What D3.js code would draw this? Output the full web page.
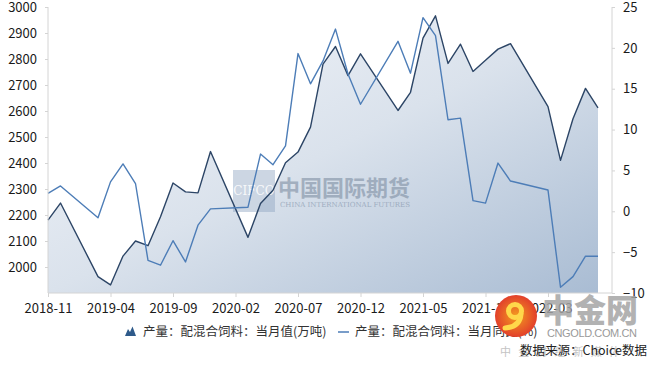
<!DOCTYPE html>
<html>
<head>
<meta charset="utf-8">
<script src="https://cdn.jsdelivr.net/npm/d3@7"></script>
<style>
  body { margin: 0; background: #fff; }
  svg { display: block; }
  text { font-family: "Microsoft YaHei", "Noto Sans CJK SC", sans-serif; }
</style>
</head>
<body>
<svg id="chart"></svg>
<script>
// monthly categories 2018-11 .. 2022-07 (Jan/Feb not published -> null)
const months = d3.timeMonths(new Date(2018, 10, 1), new Date(2022, 7, 1)).map(d3.timeFormat("%Y-%m"))
const output = [2180, 2246, null, null, 1963, 1931, 2042, 2100, 2082, 2193, 2323, 2289, 2285, 2444,
  null, null, 2114, 2244, 2295, 2401, 2442, 2538, 2780, 2848, 2736, 2820, null, null, 2602, 2672,
  2880, 2966, 2783, 2857, 2752, 2795, 2838, 2859, null, null, 2617, 2410, 2570, 2687, 2612]
const yoy = [2.2, 3.1, null, null, -0.8, 3.6, 5.8, 3.4, -6.0, -6.6, -3.6, -6.2, -1.7, 0.3,
  null, null, 0.5, 7.0, 5.7, 8.0, 19.3, 15.6, 18.4, 22.3, 16.8, 13.1, null, null, 20.8, 16.9,
  23.7, 21.5, 11.2, 11.4, 1.3, 1.0, 5.9, 3.7, null, null, 2.6, -9.3, -8.0, -5.5, -5.5]
const xTickLabels = ["2018-11", "2019-04", "2019-09", "2020-02", "2020-07", "2020-12", "2021-05", "2021-10", "2022-03"]
const leftTicks = [2000, 2100, 2200, 2300, 2400, 2500, 2600, 2700, 2800, 2900, 3000]
const rightTicks = [-10, -5, 0, 5, 10, 15, 20, 25]
const seriesNames = ["产量：配混合饲料：当月值(万吨)", "产量：配混合饲料：当月同比(%)"]

const width = 650, height = 368
const plot = { left: 48, right: 612, top: 7, bottom: 293 }

const svg = d3.select("#chart").attr("width", width).attr("height", height)

const x = d3.scaleLinear().domain([0, months.length - 1]).range([plot.left, 598])
const yL = d3.scaleLinear().domain([1900, 3000]).range([plot.bottom, plot.top])
const yR = d3.scaleLinear().domain([-10, 25]).range([plot.bottom, plot.top])

const defs = svg.append("defs")
const grad = defs.append("linearGradient").attr("id", "areaFill")
  .attr("x1", 0).attr("y1", 0).attr("x2", 1).attr("y2", 1)
grad.append("stop").attr("offset", "0").attr("stop-color", "#f5f7fb")
grad.append("stop").attr("offset", "0.5").attr("stop-color", "#dae2ec")
grad.append("stop").attr("offset", "1").attr("stop-color", "#a9bcd3")

const outPts = output.map((v, i) => ({ i, v })).filter(d => d.v !== null)
const yoyPts = yoy.map((v, i) => ({ i, v })).filter(d => d.v !== null)

// area (production)
svg.append("path")
  .datum(outPts)
  .attr("fill", "url(#areaFill)")
  .attr("d", d3.area().x(d => x(d.i)).y0(plot.bottom).y1(d => yL(d.v)))

// CIFCO watermark
const wm = svg.append("g")
wm.append("rect").attr("x", 233).attr("y", 170).attr("width", 42).attr("height", 42)
  .attr("fill", "#8fa5c0").attr("opacity", 0.45)
wm.append("text").attr("x", 254).attr("y", 195).attr("text-anchor", "middle")
  .attr("fill", "#fff").attr("opacity", 0.85).style("font-size", "12px")
  .style("font-family", "DejaVu Serif, serif").text("CIFCO")
wm.append("text").attr("x", 278).attr("y", 196).attr("fill", "#7f8fa3").attr("opacity", 0.6)
  .style("font-size", "22px").style("font-weight", "bold").text("中国国际期货")
wm.append("text").attr("x", 280).attr("y", 207).attr("fill", "#8a9ab0").attr("opacity", 0.7)
  .attr("textLength", 130).style("font-size", "7px").style("font-family", "DejaVu Serif, serif")
  .text("CHINA INTERNATIONAL FUTURES")

// lines
svg.append("path")
  .datum(outPts)
  .attr("fill", "none").attr("stroke", "#2c4566").attr("stroke-width", 1.4)
  .attr("stroke-linejoin", "round")
  .attr("d", d3.line().x(d => x(d.i)).y(d => yL(d.v)))

svg.append("path")
  .datum(yoyPts)
  .attr("fill", "none").attr("stroke", "#4d7db7").attr("stroke-width", 1.4)
  .attr("stroke-linejoin", "round")
  .attr("d", d3.line().x(d => x(d.i)).y(d => yR(d.v)))

// axes
const axisColor = "#d4d4d4"
const styleAxis = g => {
  g.selectAll(".domain").remove()
  g.selectAll(".tick line").attr("stroke", axisColor)
  g.selectAll(".tick text").attr("fill", "#1a1a1a").style("font-size", "13px")
    .style("font-family", "\"Microsoft YaHei\", \"Noto Sans CJK SC\", sans-serif")
}

svg.append("g").attr("transform", `translate(${plot.left},0)`)
  .call(d3.axisLeft(yL).tickValues(leftTicks).tickFormat(d3.format("d")).tickSize(3).tickPadding(8))
  .call(styleAxis)
svg.append("g").attr("transform", `translate(${plot.right},0)`)
  .call(d3.axisRight(yR).tickValues(rightTicks).tickFormat(d3.format("d")).tickSize(3).tickPadding(8))
  .call(styleAxis)
svg.append("g").attr("transform", `translate(0,${plot.bottom})`)
  .call(d3.axisBottom(x)
    .tickValues(xTickLabels.map(l => months.indexOf(l)))
    .tickFormat(i => months[i])
    .tickSize(4).tickPadding(7))
  .call(styleAxis)

svg.append("line").attr("x1", plot.left).attr("x2", plot.left).attr("y1", plot.top).attr("y2", plot.bottom)
  .attr("stroke", axisColor)
svg.append("line").attr("x1", plot.right).attr("x2", plot.right).attr("y1", plot.top).attr("y2", plot.bottom)
  .attr("stroke", axisColor)
svg.append("line").attr("x1", plot.left).attr("x2", plot.right).attr("y1", plot.bottom).attr("y2", plot.bottom)
  .attr("stroke", axisColor)

// legend
const legend = svg.append("g").style("font-size", "12.5px")
legend.append("path").attr("d", "M125,336 L128,329 L130,332 L132.5,326.5 L136,336 Z").attr("fill", "#2e5a8a")
legend.append("text").attr("x", 143).attr("y", 333).attr("dominant-baseline", "middle")
  .attr("fill", "#333").text(seriesNames[0])
legend.append("line").attr("x1", 338).attr("x2", 349).attr("y1", 332).attr("y2", 332)
  .attr("stroke", "#4d7db7").attr("stroke-width", 1.5)
legend.append("text").attr("x", 355).attr("y", 333).attr("dominant-baseline", "middle")
  .attr("fill", "#333").text(seriesNames[1])

// cngold watermark + source
const cg = svg.append("g")
cg.append("text").attr("x", 500).attr("y", 353).attr("dominant-baseline", "middle")
  .attr("textLength", 120).attr("fill", "#c4c4c4").style("font-size", "11px").text("中金财经新媒体")
cg.append("text").attr("x", 647).attr("y", 352).attr("text-anchor", "end").attr("dominant-baseline", "middle")
  .attr("fill", "#222").style("font-size", "12.5px").text("数据来源：Choice数据")
const lg = defs.append("radialGradient").attr("id", "logoFill")
lg.append("stop").attr("offset", "0").attr("stop-color", "#f39c1f")
lg.append("stop").attr("offset", "1").attr("stop-color", "#e2402b")
cg.append("circle").attr("cx", 516).attr("cy", 316).attr("r", 21).attr("fill", "url(#logoFill)")
cg.append("circle").attr("cx", 515).attr("cy", 311).attr("r", 6.5).attr("fill", "none")
  .attr("stroke", "#ffd84a").attr("stroke-width", 5)
cg.append("path").attr("d", "M521,314 Q520,327 505,328").attr("fill", "none")
  .attr("stroke", "#ffd84a").attr("stroke-width", 5).attr("stroke-linecap", "round")
cg.append("text").attr("x", 542).attr("y", 322).attr("fill", "#a5a5a5").attr("opacity", 0.85)
  .style("font-size", "32px").style("font-weight", "900").text("中金网")
cg.append("text").attr("x", 547).attr("y", 337).attr("textLength", 90).attr("fill", "#9a9a9a")
  .style("font-size", "11px").style("font-family", "Liberation Sans, sans-serif").text("CNGOLD.COM.CN")
</script>
</body>
</html>
